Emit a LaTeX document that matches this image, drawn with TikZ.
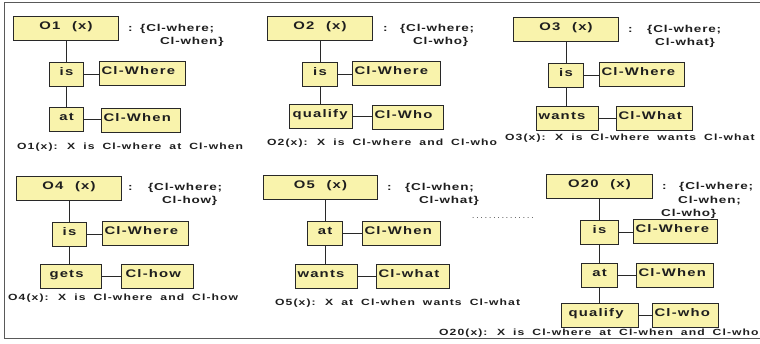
\documentclass[tikz,border=0pt]{standalone}
\usepackage{fontspec}
\setmainfont{Liberation Sans}
\newfontfamily\trkbox[FakeStretch=1.35,LetterSpace=11,WordSpace=2.2]{Liberation Sans}
\newfontfamily\trkann[FakeStretch=1.35,LetterSpace=8,WordSpace=2.2]{Liberation Sans}
\newfontfamily\trkcap[FakeStretch=1.35,LetterSpace=12,WordSpace=1.8]{Liberation Sans}
\newfontfamily\trkdots[LetterSpace=25]{Liberation Sans}
\newcommand\boxtxt{\trkbox\bfseries\fontsize{11}{13}\selectfont}
\newcommand\captxt{\trkcap\bfseries\fontsize{9}{11}\selectfont}
\newcommand\anntxt{\trkann\bfseries\fontsize{10}{12}\selectfont}
\definecolor{boxyellow}{RGB}{249,243,172}
\definecolor{inkc}{RGB}{30,30,30}
\definecolor{linec}{RGB}{40,40,40}
\begin{document}
\begin{tikzpicture}[x=1pt,y=-1pt,
  box/.style={draw=linec, fill=boxyellow, line width=1pt, minimum height=24pt,
    inner xsep=2pt, inner ysep=0pt, text height=8pt, text depth=6pt,
    font=\boxtxt, text=inkc, anchor=north west},
  lbox/.style={box, text width=#1, align=left},
  captionlbl/.style={anchor=base west, inner sep=0pt, font=\captxt, text=inkc},
  annlbl/.style={anchor=base west, inner sep=0pt, font=\anntxt, text=inkc},
  conn/.style={draw=linec, line width=1pt}]
\useasboundingbox (0,0) rectangle (760,343);
\draw[line width=1pt, draw=black!65] (760,2) -- (4,2) -- (4,338) -- (760,338);

% ---------- group 1
\node[box, minimum width=105pt] (O1) at (13,16) {O1 (x)};
\node[box, minimum width=34pt] (is1) at (49,62) {is};
\node[lbox=82pt] (wh1) at (99,61) {\mbox{Cl-Where}};
\node[box, minimum width=34pt] (at1) at (49,107) {at};
\node[lbox=75pt] (wn1) at (101,108) {\mbox{Cl-When}};
\draw[conn] (is1.north) -- (is1.north |- O1.south);
\draw[conn] (is1.south) -- (is1.south |- at1.north);
\draw[conn] (is1.east) -- (is1.east -| wh1.west);
\draw[conn] (at1.east) -- (at1.east -| wn1.west);
\node[annlbl] (a1a) at (128,31) {\makebox[12pt][l]{:}\{Cl-where;};
\node[annlbl] (a1b) at (160,44) {Cl-when\}};
\node[captionlbl] (c1) at (17,149.4) {O1(x): X is Cl-where at Cl-when};

% ---------- group 2
\node[box, minimum width=105pt] (O2) at (267,16) {O2 (x)};
\node[box, minimum width=35pt] (is2) at (302,62) {is};
\node[lbox=84pt] (wh2) at (352,61) {\mbox{Cl-Where}};
\node[lbox=59pt] (qu2) at (289,104) {\mbox{\hspace*{1pt}qualify}};
\node[lbox=67pt] (wo2) at (372,105) {\mbox{Cl-Who}};
\draw[conn] (is2.north) -- (is2.north |- O2.south);
\draw[conn] (is2.south) -- (is2.south |- qu2.north);
\draw[conn] (is2.east) -- (is2.east -| wh2.west);
\draw[conn] (qu2.east) -- (qu2.east -| wo2.west);
\node[annlbl] (a2a) at (383,31) {\makebox[17pt][l]{:}\{Cl-where;};
\node[annlbl] (a2b) at (413,44) {Cl-who\}};
\node[captionlbl] (c2) at (267,145.4) {O2(x): X is Cl-where and Cl-who};

% ---------- group 3
\node[box, minimum width=105pt] (O3) at (513,17) {O3 (x)};
\node[box, minimum width=35pt] (is3) at (548,63) {is};
\node[lbox=81pt] (wh3) at (599,62) {\mbox{Cl-Where}};
\node[lbox=58pt] (wa3) at (536,106) {\mbox{wants}};
\node[lbox=72pt] (wt3) at (616,106) {\mbox{Cl-What}};
\draw[conn] (is3.north) -- (is3.north |- O3.south);
\draw[conn] (is3.south) -- (is3.south |- wa3.north);
\draw[conn] (is3.east) -- (is3.east -| wh3.west);
\draw[conn] (wa3.east) -- (wa3.east -| wt3.west);
\node[annlbl] (a3a) at (628,32) {\makebox[19pt][l]{:}\{Cl-where;};
\node[annlbl] (a3b) at (655,45) {Cl-what\}};
\node[captionlbl] (c3) at (505,140.4) {O3(x): X is Cl-where wants Cl-what};

% ---------- group 4
\node[box, minimum width=105pt] (O4) at (16,176) {O4 (x)};
\node[box, minimum width=34pt] (is4) at (52,222) {is};
\node[lbox=82pt] (wh4) at (102,221) {\mbox{Cl-Where}};
\node[lbox=57pt] (ge4) at (40,264) {\mbox{\hspace*{7pt}gets}};
\node[lbox=68pt] (ho4) at (121,264) {\mbox{\hspace*{2pt}Cl-how}};
\draw[conn] (is4.north) -- (is4.north |- O4.south);
\draw[conn] (is4.south) -- (is4.south |- ge4.north);
\draw[conn] (is4.east) -- (is4.east -| wh4.west);
\draw[conn] (ge4.east) -- (ge4.east -| ho4.west);
\node[annlbl] (a4a) at (128,190) {\makebox[20pt][l]{:}\{Cl-where;};
\node[annlbl] (a4b) at (162,203) {Cl-how\}};
\node[captionlbl] (c4) at (8,300.4) {O4(x): X is Cl-where and Cl-how};

% ---------- group 5
\node[box, minimum width=114pt] (O5) at (263,175) {O5 (x)};
\node[box, minimum width=35pt] (at5) at (307,221) {at};
\node[lbox=74pt] (wn5) at (362,221) {\mbox{Cl-When}};
\node[lbox=58pt] (wa5) at (295,264) {\mbox{wants}};
\node[lbox=69pt] (wt5) at (376,264) {\mbox{Cl-what}};
\draw[conn] (at5.north) -- (at5.north |- O5.south);
\draw[conn] (at5.south) -- (at5.south |- wa5.north);
\draw[conn] (at5.east) -- (at5.east -| wn5.west);
\draw[conn] (wa5.east) -- (wa5.east -| wt5.west);
\node[annlbl] (a5a) at (387,190) {\makebox[18pt][l]{:}\{Cl-when;};
\node[annlbl] (a5b) at (419,203) {Cl-what\}};
\node[captionlbl] (c5) at (275,305.4) {O5(x): X at Cl-when wants Cl-what};

% ---------- dots
\node[anchor=base west, inner sep=0pt, font=\trkdots\fontsize{8}{9}\selectfont, text=inkc] (dots) at (472,218) {...............};

% ---------- group 20
\node[box, minimum width=106pt] (O20) at (546,174) {O20 (x)};
\node[box, minimum width=38pt] (is20) at (580,220) {is};
\node[lbox=80pt] (wh20) at (633,219) {\mbox{Cl-Where}};
\node[box, minimum width=36pt] (at20) at (581,263) {at};
\node[lbox=73pt] (wn20) at (636,263) {\mbox{Cl-When}};
\node[lbox=73pt] (qu20) at (561,303) {\mbox{\hspace*{5pt}qualify}};
\node[lbox=62pt] (wo20) at (652,303) {\mbox{Cl-who}};
\draw[conn] (is20.north) -- (is20.north |- O20.south);
\draw[conn] (is20.south) -- (is20.south |- at20.north);
\draw[conn] (at20.south) -- (at20.south |- qu20.north);
\draw[conn] (is20.east) -- (is20.east -| wh20.west);
\draw[conn] (at20.east) -- (at20.east -| wn20.west);
\draw[conn] (qu20.east) -- (qu20.east -| wo20.west);
\node[annlbl] (a20a) at (662,189) {\makebox[17pt][l]{:}\{Cl-where;};
\node[annlbl] (a20b) at (678,203) {Cl-when;};
\node[annlbl] (a20c) at (661,216) {Cl-who\}};
\node[captionlbl] (c20) at (439,335.4) {O20(x): X is Cl-where at Cl-when and Cl-who};
\end{tikzpicture}
\end{document}
